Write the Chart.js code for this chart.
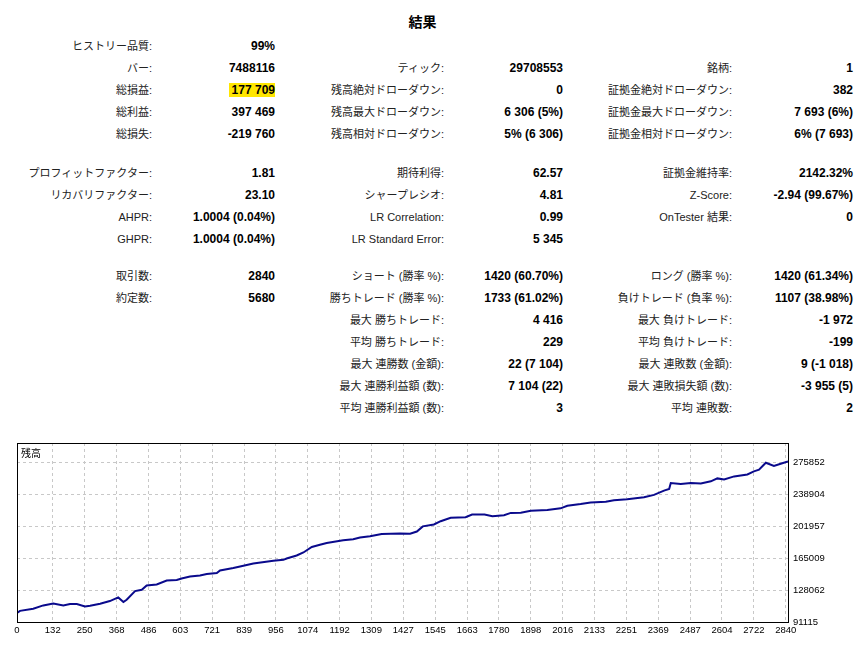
<!DOCTYPE html>
<html>
<head>
<meta charset="utf-8">
<script src="https://cdn.jsdelivr.net/npm/chart.js@4.4.1/dist/chart.umd.min.js"></script>
<style>
  html, body { margin: 0; padding: 0; background: #fff; }
  body { width: 868px; height: 653px; position: relative; overflow: hidden;
         font-family: "Liberation Sans", "Noto Sans CJK JP", sans-serif; color: #000; }
  #title { position: absolute; left: 0; width: 845px; top: 12px; text-align: center;
           font-weight: bold; font-size: 14px; line-height: 20px; }
  .cell { position: absolute; white-space: nowrap; line-height: 14px; text-align: right; }
  .lbl { font-size: 11px; color: #222; }
  .val { font-size: 12px; font-weight: bold; }
  .hl { background: #ffe600; padding-left: 3px; }
  #wrap { position: absolute; left: 0; top: 430px; width: 868px; height: 223px; }
</style>
</head>
<body>
<div id="title">結果</div>
<div id="table"></div>
<div id="wrap"><canvas id="balance"></canvas></div>
<script>
// レポートの各行 (行番号, ラベル, 値)
const rowY = [46, 68, 90, 112, 134, 173, 195, 217, 239, 276, 298, 320, 342, 364, 386, 408];

const col1 = [
  [0, 'ヒストリー品質:', '99%'],
  [1, 'バー:', '7488116'],
  [2, '総損益:', '177 709'],
  [3, '総利益:', '397 469'],
  [4, '総損失:', '-219 760'],
  [5, 'プロフィットファクター:', '1.81'],
  [6, 'リカバリファクター:', '23.10'],
  [7, 'AHPR:', '1.0004 (0.04%)'],
  [8, 'GHPR:', '1.0004 (0.04%)'],
  [9, '取引数:', '2840'],
  [10, '約定数:', '5680']
];
const col2 = [
  [1, 'ティック:', '29708553'],
  [2, '残高絶対ドローダウン:', '0'],
  [3, '残高最大ドローダウン:', '6 306 (5%)'],
  [4, '残高相対ドローダウン:', '5% (6 306)'],
  [5, '期待利得:', '62.57'],
  [6, 'シャープレシオ:', '4.81'],
  [7, 'LR Correlation:', '0.99'],
  [8, 'LR Standard Error:', '5 345'],
  [9, 'ショート (勝率 %):', '1420 (60.70%)'],
  [10, '勝ちトレード (勝率 %):', '1733 (61.02%)'],
  [11, '最大 勝ちトレード:', '4 416'],
  [12, '平均 勝ちトレード:', '229'],
  [13, '最大 連勝数 (金額):', '22 (7 104)'],
  [14, '最大 連勝利益額 (数):', '7 104 (22)'],
  [15, '平均 連勝利益額 (数):', '3']
];
const col3 = [
  [1, '銘柄:', '1'],
  [2, '証拠金絶対ドローダウン:', '382'],
  [3, '証拠金最大ドローダウン:', '7 693 (6%)'],
  [4, '証拠金相対ドローダウン:', '6% (7 693)'],
  [5, '証拠金維持率:', '2142.32%'],
  [6, 'Z-Score:', '-2.94 (99.67%)'],
  [7, 'OnTester 結果:', '0'],
  [9, 'ロング (勝率 %):', '1420 (61.34%)'],
  [10, '負けトレード (負率 %):', '1107 (38.98%)'],
  [11, '最大 負けトレード:', '-1 972'],
  [12, '平均 負けトレード:', '-199'],
  [13, '最大 連敗数 (金額):', '9 (-1 018)'],
  [14, '最大 連敗損失額 (数):', '-3 955 (5)'],
  [15, '平均 連敗数:', '2']
];

// 残高グラフ
const trades = [0, 11, 60, 97, 134, 171, 196, 221, 251, 270, 307, 343, 374, 393, 405, 436, 461, 479, 516, 553,
  590, 608, 639, 676, 701, 738, 750, 799, 824, 873, 947, 984, 996, 1033, 1058, 1089, 1119, 1144, 1205, 1242,
  1267, 1304, 1347, 1415, 1452, 1477, 1499, 1540, 1565, 1602, 1657, 1681, 1727, 1756, 1799, 1824, 1861, 1898,
  1959, 2008, 2033, 2082, 2119, 2175, 2205, 2254, 2316, 2353, 2390, 2409, 2415, 2452, 2489, 2526, 2563, 2587,
  2612, 2649, 2698, 2722, 2741, 2766, 2796, 2821, 2848];
const balance = [101500, 104000, 106500, 110300, 112600, 110300, 112000, 111900, 109100, 109900, 112200, 115300,
  119500, 114200, 116900, 126900, 128400, 133400, 134500, 139100, 139600, 141400, 143700, 144900, 146600, 147700,
  150800, 153500, 155300, 158800, 161900, 163000, 164600, 168000, 171500, 177900, 180400, 182500, 185600, 186900,
  188800, 190300, 192900, 193400, 193100, 195700, 201700, 203900, 207700, 211600, 212300, 215300, 215300, 213400,
  214500, 217300, 217600, 219900, 220700, 222600, 225600, 227600, 229400, 230100, 231900, 233000, 235300, 238100,
  243000, 245000, 251900, 250700, 251900, 251400, 253800, 257200, 256000, 259500, 261800, 265300, 267200, 275300,
  271500, 274100, 276800];
const xTicks = [0, 132, 250, 368, 486, 603, 721, 839, 956, 1074, 1192, 1309, 1427, 1545, 1663, 1780, 1898,
  2016, 2133, 2251, 2369, 2487, 2604, 2722, 2840];
const yTicks = [91115, 128062, 165009, 201957, 238904, 275852];

// 表を作る
const table = document.getElementById('table');
function addCol(rows, lblRight, valRight) {
  rows.forEach(r => {
    const y = rowY[r[0]];
    const l = document.createElement('div');
    l.className = 'cell lbl';
    l.style.right = (868 - lblRight) + 'px';
    l.style.top = (y - 7) + 'px';
    l.textContent = r[1];
    table.appendChild(l);
    const v = document.createElement('div');
    v.className = 'cell val';
    v.style.right = (868 - valRight) + 'px';
    v.style.top = (y - 7) + 'px';
    v.textContent = r[2];
    if (r[1] === '総損益:') v.classList.add('hl');
    table.appendChild(v);
  });
}
addCol(col1, 152, 275);
addCol(col2, 444, 563);
addCol(col3, 732, 853);

// 枠線と「残高」
const framePlugin = {
  id: 'frame',
  afterDraw(chart) {
    const a = chart.chartArea;
    const c = chart.ctx;
    c.save();
    c.strokeStyle = '#000';
    c.lineWidth = 1;
    c.strokeRect(Math.round(a.left) + 0.5, Math.round(a.top) + 0.5,
      Math.round(a.right - a.left), Math.round(a.bottom - a.top));
    c.fillStyle = '#000';
    c.font = '10px "Noto Sans CJK JP"';
    c.textBaseline = 'middle';
    c.fillText('残高', a.left + 4, a.top + 10);
    c.restore();
  }
};

const ctx = document.getElementById('balance');
new Chart(ctx, {
  type: 'line',
  data: {
    datasets: [{
      label: '残高',
      data: trades.map((t, i) => ({ x: t, y: balance[i] })),
      borderColor: '#0a0a8c',
      borderWidth: 2,
      pointRadius: 0,
      tension: 0,
      fill: false
    }]
  },
  options: {
    responsive: true,
    maintainAspectRatio: false,
    animation: false,
    layout: { padding: { left: 17, top: 13, right: 0, bottom: 0 } },
    plugins: { legend: { display: false }, tooltip: { enabled: false } },
    scales: {
      x: {
        type: 'linear',
        min: 0,
        max: 2848,
        afterBuildTicks: s => { s.ticks = xTicks.map(v => ({ value: v })); },
        afterFit: s => { s.height = 31; },
        ticks: { autoSkip: false, maxRotation: 0, padding: 3, color: '#000',
                 font: { family: 'Liberation Sans', size: 9.5 }, callback: v => v },
        grid: { color: '#c8c8c8', drawTicks: false },
        border: { display: false, dash: [3, 3] }
      },
      y: {
        position: 'right',
        min: 91115,
        max: 298135,
        afterBuildTicks: s => { s.ticks = yTicks.map(v => ({ value: v })); },
        afterFit: s => { s.width = 80; },
        ticks: { padding: 5, color: '#000',
                 font: { family: 'Liberation Sans', size: 9.5 }, callback: v => v },
        grid: { color: '#c8c8c8', drawTicks: false },
        border: { display: false, dash: [3, 3] }
      }
    }
  },
  plugins: [framePlugin]
});
</script>
</body>
</html>
